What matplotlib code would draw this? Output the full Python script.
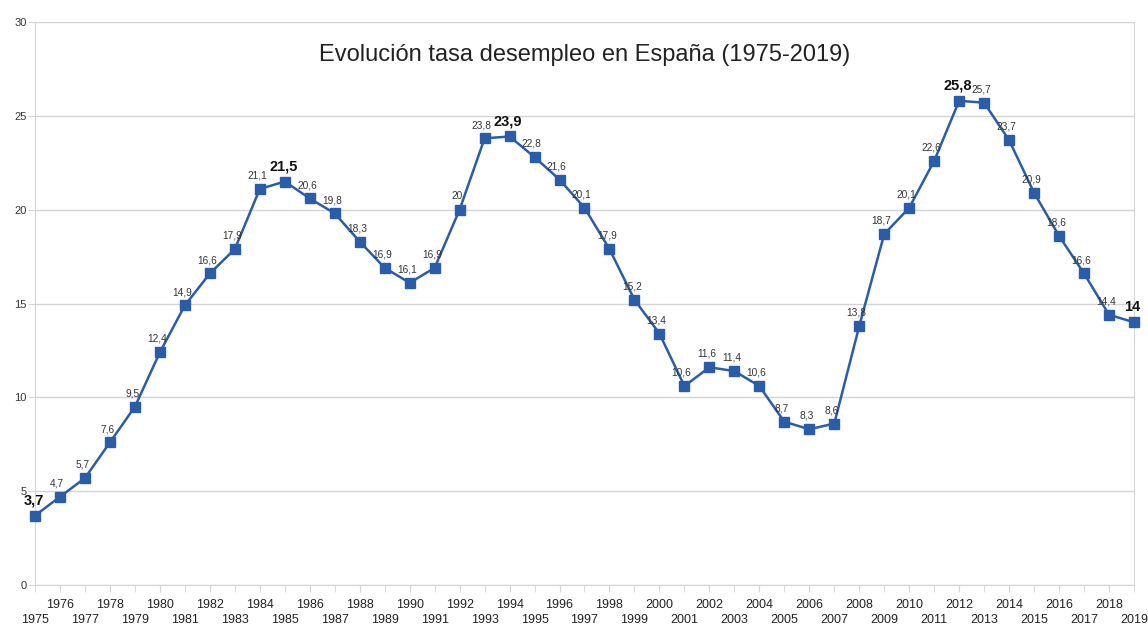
import matplotlib.pyplot as plt

plt.rcParams['font.family'] = ['Liberation Sans', 'DejaVu Sans']

years = list(range(1975, 2020))
paro = [3.7, 4.7, 5.7, 7.6, 9.5, 12.4, 14.9, 16.6, 17.9, 21.1,
        21.5, 20.6, 19.8, 18.3, 16.9, 16.1, 16.9, 20, 23.8, 23.9,
        22.8, 21.6, 20.1, 17.9, 15.2, 13.4, 10.6, 11.6, 11.4, 10.6,
        8.7, 8.3, 8.6, 13.8, 18.7, 20.1, 22.6, 25.8, 25.7, 23.7,
        20.9, 18.6, 16.6, 14.4, 14]
# años con etiqueta destacada (mínimos / máximos)
destacados = [1975, 1985, 1994, 2012, 2019]

azul = '#2b5ca8'
gris = '#d4d4d4'

fig = plt.figure(figsize=(11.48, 6.24), dpi=100)
ax = fig.add_axes([35 / 1148, 1 - 585 / 624, (1134 - 35) / 1148, (585 - 22) / 624])

ax.plot(years, paro, color=azul, lw=1.8, marker='s', markersize=6.5,
        markerfacecolor=azul, markeredgecolor=azul, zorder=3, clip_on=False)

for x, v in zip(years, paro):
    txt = f'{v:g}'.replace('.', ',')
    if x in destacados:
        ax.annotate(txt, (x, v), xytext=(-1, 6), textcoords='offset points',
                    ha='center', va='bottom', fontsize=10.5, fontweight='bold',
                    color='#111111', zorder=4)
    else:
        ax.annotate(txt, (x, v), xytext=(-2, 6), textcoords='offset points',
                    ha='center', va='bottom', fontsize=7.3, color='#333333',
                    zorder=4)

ax.set_xlim(1975, 2019)
ax.set_ylim(0, 30)
ax.set_yticks(range(0, 31, 5))

# años pares en la primera fila, impares en la segunda
pares = [y for y in years if y % 2 == 0]
impares = [y for y in years if y % 2 == 1]
ax.set_xticks(pares)
ax.set_xticklabels([str(y) for y in pares])
ax.set_xticks(impares, minor=True)
ax.set_xticklabels([str(y) for y in impares], minor=True)

ax.grid(axis='y', color=gris, lw=1)
ax.set_axisbelow(True)
for s in ['left', 'bottom', 'right']:
    ax.spines[s].set_color(gris)
ax.spines['top'].set_visible(False)

ax.tick_params(axis='x', which='major', length=5, color=gris, pad=5,
               labelsize=9, labelcolor='#222222')
ax.tick_params(axis='x', which='minor', length=5, color=gris, pad=16,
               labelsize=9, labelcolor='#222222')
ax.tick_params(axis='y', length=5, color=gris, pad=1, labelsize=8,
               labelcolor='#333333')

fig.text(585 / 1148, 1 - 55 / 624, 'Evolución tasa desempleo en España (1975-2019)',
         ha='center', va='center', fontsize=17, color='#222222')

fig.savefig('out.png', dpi=100)
